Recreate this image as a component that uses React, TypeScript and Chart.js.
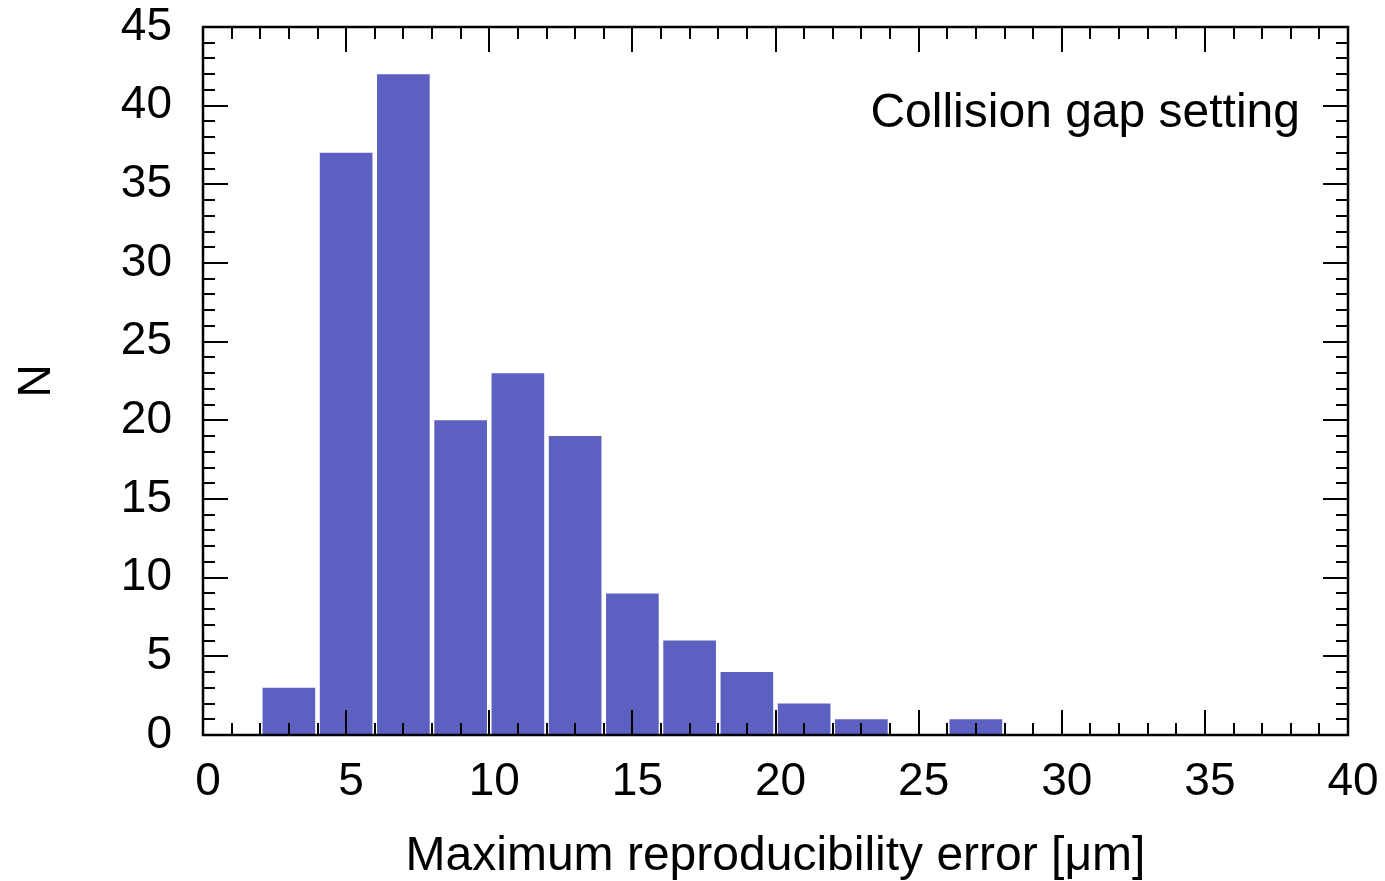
import { useEffect, useRef } from 'react';
import { Chart, registerables } from 'chart.js';

Chart.register(...registerables);

// Histogram bins (centre of each 2-µm bin) and their counts
const binCenters = [3, 5, 7, 9, 11, 13, 15, 17, 19, 21, 23, 25, 27];
const counts = [3, 37, 42, 20, 23, 19, 9, 6, 4, 2, 1, 0, 1];

const xRange = [0, 40];
const yRange = [0, 45];
const majorStep = 5;
const minorStep = 1;

const annotationText = 'Collision gap setting';
const xTitleText = 'Maximum reproducibility error [μm]';
const yTitleText = 'N';

const FONT = '"Liberation Sans", Arial, Helvetica, sans-serif';
const BAR_COLOR = 'rgb(92, 96, 192)';

const frameTicksPlugin = {
  id: 'frameTicks',
  afterDatasetsDraw(chart: any) {
    const { ctx, chartArea: a, scales } = chart;
    const x = scales.x;
    const y = scales.y;
    ctx.save();
    ctx.strokeStyle = '#000';
    ctx.lineWidth = 2;
    ctx.beginPath();
    for (let v = xRange[0]; v <= xRange[1]; v += minorStep) {
      const px = Math.round(x.getPixelForValue(v));
      const L = v % majorStep === 0 ? 25 : 12;
      ctx.moveTo(px, a.bottom);
      ctx.lineTo(px, a.bottom - L);
      ctx.moveTo(px, a.top);
      ctx.lineTo(px, a.top + L);
    }
    for (let v = yRange[0]; v <= yRange[1]; v += minorStep) {
      const py = Math.round(y.getPixelForValue(v));
      const L = v % majorStep === 0 ? 25 : 12;
      ctx.moveTo(a.left, py);
      ctx.lineTo(a.left + L, py);
      ctx.moveTo(a.right, py);
      ctx.lineTo(a.right - L, py);
    }
    ctx.stroke();
    ctx.lineWidth = 2.5;
    ctx.strokeRect(a.left, a.top, a.right - a.left, a.bottom - a.top);

    ctx.fillStyle = '#000';
    ctx.font = `48px ${FONT}`;
    ctx.textAlign = 'right';
    ctx.textBaseline = 'alphabetic';
    ctx.fillText(annotationText, a.right - 48, a.top + 100);
    ctx.restore();
  },
};

export default function App() {
  const canvasRef = useRef<HTMLCanvasElement | null>(null);

  useEffect(() => {
    if (!canvasRef.current) return;
    const chart = new Chart(canvasRef.current, {
      type: 'bar',
      data: {
        datasets: [
          {
            label: 'N',
            data: binCenters.map((c, i) => ({ x: c, y: counts[i] })),
            backgroundColor: BAR_COLOR,
            borderWidth: 0,
            barPercentage: 0.92,
            categoryPercentage: 1,
          },
        ],
      },
      options: {
        animation: false,
        responsive: true,
        maintainAspectRatio: false,
        layout: { padding: { top: 27, right: 37, left: 0, bottom: 0 } },
        plugins: {
          legend: { display: false },
          tooltip: { enabled: false },
        },
        scales: {
          x: {
            type: 'linear',
            min: xRange[0],
            max: xRange[1],
            offset: false,
            grid: { display: false, drawTicks: false, offset: false },
            border: { display: false },
            ticks: {
              stepSize: majorStep,
              maxRotation: 0,
              autoSkip: false,
              color: '#000',
              padding: 20,
              labelOffset: 5,
              font: { family: FONT, size: 46, lineHeight: 1.2 },
            },
            title: {
              display: true,
              text: xTitleText,
              color: '#000',
              padding: { top: 0, bottom: 0 },
              font: { family: FONT, size: 48, lineHeight: 1 },
            },
            afterFit: (s: any) => {
              s.height = 881 - 735;
              s.paddingLeft = 0;
              s.paddingRight = 0;
            },
          },
          y: {
            type: 'linear',
            min: yRange[0],
            max: yRange[1],
            grid: { display: false, drawTicks: false },
            border: { display: false },
            ticks: {
              stepSize: majorStep,
              color: '#000',
              padding: 31,
              font: { family: FONT, size: 46, lineHeight: 1 },
            },
            title: {
              display: true,
              text: yTitleText,
              color: '#000',
              padding: { top: 14, bottom: 0 },
              font: { family: FONT, size: 46, lineHeight: 1 },
            },
            afterFit: (s: any) => {
              s.width = 203;
              s.paddingTop = 0;
              s.paddingBottom = 0;
            },
          },
        },
      },
      plugins: [frameTicksPlugin],
    });
    return () => chart.destroy();
  }, []);

  return (
    <div style={{ position: 'absolute', left: 0, top: 0, width: 1385, height: 881, background: '#fff' }}>
      <canvas ref={canvasRef} />
    </div>
  );
}
